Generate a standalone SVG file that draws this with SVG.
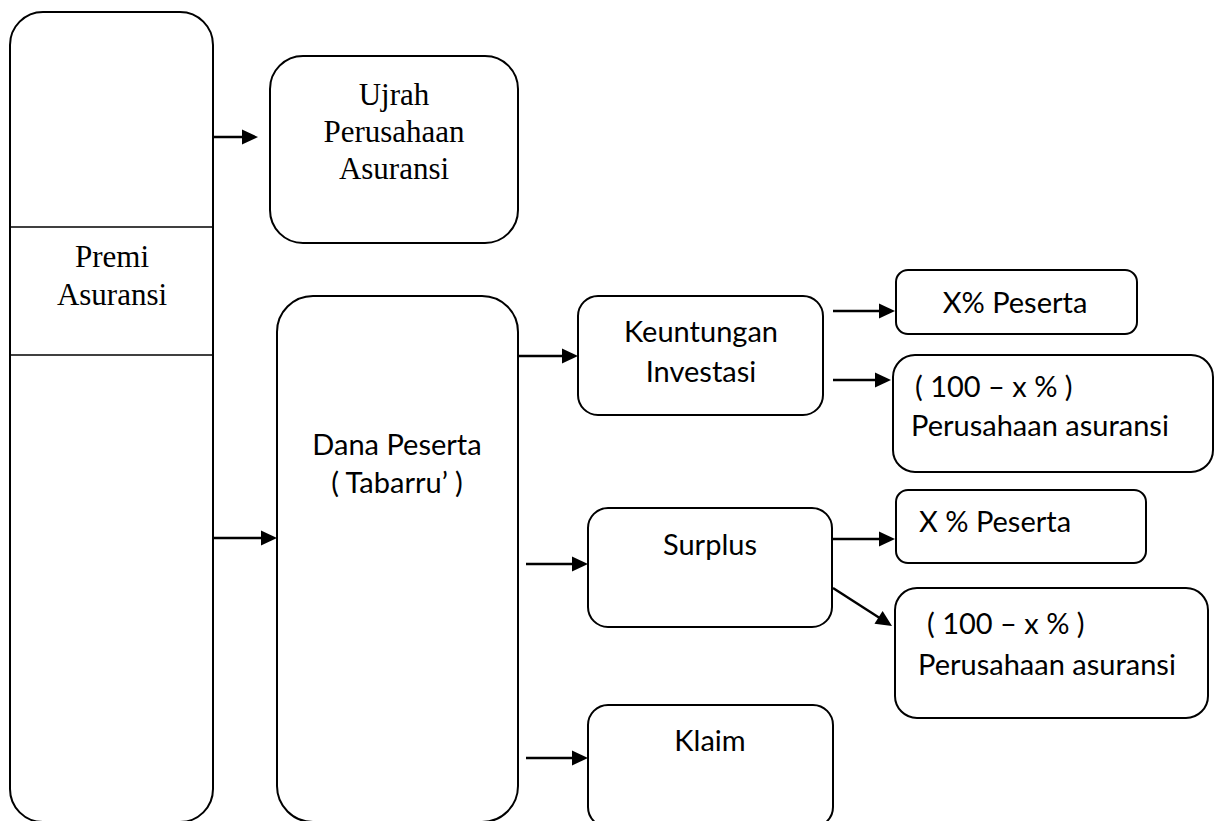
<svg xmlns="http://www.w3.org/2000/svg" width="1215" height="821" viewBox="0 0 1215 821">
  <style>
    .box { fill: #ffffff; stroke: #000000; stroke-width: 2; }
    .div { stroke: #000000; stroke-width: 1.6; }
    .serif { font-family: "Liberation Serif", "Times New Roman", serif; font-size: 31px; fill: #000000; }
    .sans { font-family: Lato, "Open Sans", sans-serif; font-size: 29px; fill: #000000; }
    .mid { text-anchor: middle; }
    .arrow { stroke: #000000; stroke-width: 2.4; fill: none; }
    .tip { fill: #000000; }
  </style>
  <defs>
    <!-- arrowhead pointing right, tip at origin -->
    <path id="head" class="tip" d="M0,0 L-16,-7.5 L-16,7.5 z"/>
  </defs>

  <!-- premium column -->
  <g id="premi">
    <rect class="box" x="10" y="12" width="203" height="810" rx="33" ry="33"/>
    <line class="div" x1="10" y1="227" x2="213" y2="227"/>
    <line class="div" x1="10" y1="355" x2="213" y2="355"/>
    <text class="serif mid" x="112" y="267">Premi</text>
    <text class="serif mid" x="112" y="305">Asuransi</text>
  </g>

  <g id="ujrah">
    <rect class="box" x="270" y="56" width="248" height="187" rx="33" ry="33"/>
    <text class="serif mid" x="394" y="105">Ujrah</text>
    <text class="serif mid" x="394" y="142">Perusahaan</text>
    <text class="serif mid" x="394" y="179">Asuransi</text>
  </g>

  <g id="dana">
    <rect class="box" x="277" y="296" width="241" height="526" rx="36" ry="36"/>
    <text class="sans mid" x="397" y="455">Dana Peserta</text>
    <text class="sans mid" x="397" y="493">( Tabarru’ )</text>
  </g>

  <g id="keuntungan">
    <rect class="box" x="578" y="296" width="245" height="119" rx="20" ry="20"/>
    <text class="sans mid" x="701" y="342">Keuntungan</text>
    <text class="sans mid" x="701" y="382">Investasi</text>
  </g>

  <g id="peserta1">
    <rect class="box" x="896" y="270" width="241" height="64" rx="12" ry="12"/>
    <text class="sans mid" x="1015" y="313">X% Peserta</text>
  </g>

  <g id="perusahaan1">
    <rect class="box" x="893" y="355" width="320" height="117" rx="22" ry="22"/>
    <text class="sans" x="915" y="397">( 100 – x % )</text>
    <text class="sans" x="911" y="436">Perusahaan asuransi</text>
  </g>

  <g id="surplus">
    <rect class="box" x="588" y="508" width="244" height="119" rx="20" ry="20"/>
    <text class="sans mid" x="710" y="555">Surplus</text>
  </g>

  <g id="peserta2">
    <rect class="box" x="896" y="490" width="250" height="73" rx="12" ry="12"/>
    <text class="sans" x="919" y="532">X % Peserta</text>
  </g>

  <g id="perusahaan2">
    <rect class="box" x="895" y="588" width="313" height="130" rx="22" ry="22"/>
    <text class="sans" x="927" y="634">( 100 – x % )</text>
    <text class="sans" x="918" y="675">Perusahaan asuransi</text>
  </g>

  <g id="klaim">
    <rect class="box" x="588" y="705" width="245" height="122" rx="20" ry="20"/>
    <text class="sans mid" x="710" y="751">Klaim</text>
  </g>

  <!-- connectors: shaft plus a placed arrowhead -->
  <g id="connectors">
    <line class="arrow" x1="213" y1="137" x2="246" y2="137"/>
    <use href="#head" transform="translate(258,137)"/>

    <line class="arrow" x1="213" y1="538" x2="265" y2="538"/>
    <use href="#head" transform="translate(277,538)"/>

    <line class="arrow" x1="518" y1="356" x2="566" y2="356"/>
    <use href="#head" transform="translate(578,356)"/>

    <line class="arrow" x1="833" y1="311" x2="883" y2="311"/>
    <use href="#head" transform="translate(895,311)"/>

    <line class="arrow" x1="833" y1="380" x2="879" y2="380"/>
    <use href="#head" transform="translate(891,380)"/>

    <line class="arrow" x1="526" y1="564" x2="576" y2="564"/>
    <use href="#head" transform="translate(588,564)"/>

    <line class="arrow" x1="833" y1="539" x2="883" y2="539"/>
    <use href="#head" transform="translate(895,539)"/>

    <line class="arrow" x1="833" y1="588" x2="882" y2="619.6"/>
    <use href="#head" transform="translate(892,626) rotate(32.8)"/>

    <line class="arrow" x1="526" y1="758" x2="576" y2="758"/>
    <use href="#head" transform="translate(588,758)"/>
  </g>
</svg>
